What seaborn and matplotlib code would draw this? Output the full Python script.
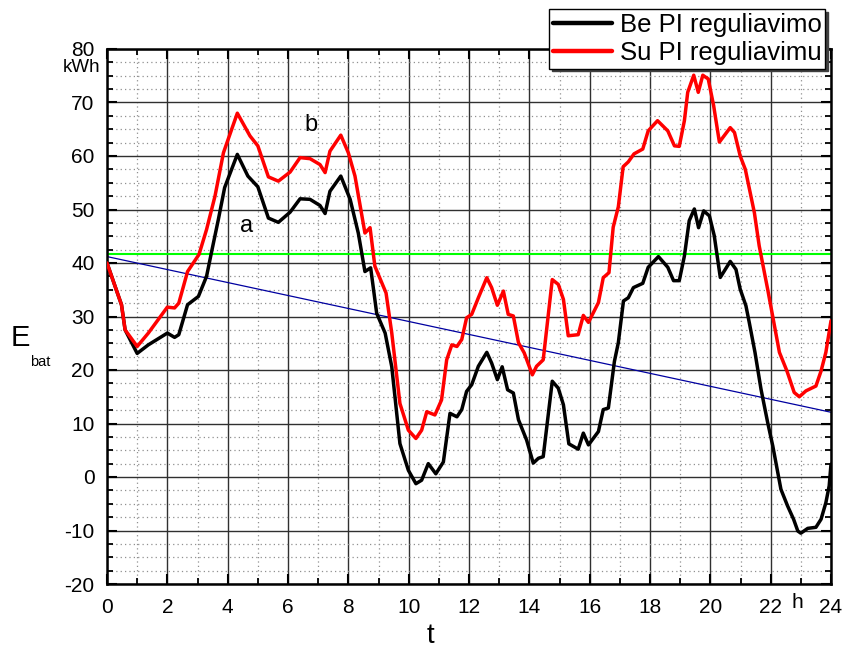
import numpy as np
import pandas as pd
import matplotlib
matplotlib.use("Agg")
import matplotlib.pyplot as plt
from matplotlib.ticker import MultipleLocator
import seaborn as sns

# ---- data ----
t_a = [0, 0.48, 0.6, 1.0, 1.37, 2.0, 2.24, 2.38, 2.67, 3.03, 3.3, 3.46, 3.69, 3.9, 4.32, 4.67, 5.0, 5.35,
       5.68, 6.07, 6.4, 6.73, 7.06, 7.23, 7.39, 7.75, 8.06, 8.33, 8.55, 8.74, 8.94, 9.22, 9.44, 9.71, 9.99,
       10.24, 10.43, 10.65, 10.9, 11.15, 11.37, 11.6, 11.76, 11.92, 12.09, 12.31, 12.59, 12.75, 12.94, 13.1,
       13.28, 13.47, 13.64, 13.91, 14.13, 14.3, 14.46, 14.76, 14.96, 15.13, 15.31, 15.62, 15.79, 15.96, 16.29,
       16.45, 16.62, 16.82, 16.95, 17.12, 17.28, 17.45, 17.76, 17.94, 18.28, 18.59, 18.78, 18.97, 19.14, 19.3,
       19.47, 19.61, 19.78, 19.97, 20.13, 20.33, 20.66, 20.85, 20.99, 21.18, 21.29, 21.48, 21.68, 21.9, 22.07,
       22.34, 22.56, 22.76, 22.9, 23.0, 23.23, 23.5, 23.67, 23.83, 23.94, 24.0]
e_a = [40, 32.2, 27.5, 23.1, 24.7, 26.9, 26.1, 26.6, 32.2, 33.75, 37.5, 41.9, 48.1, 54.1, 60.3, 56.25, 54.25,
       48.4, 47.6, 49.5, 52, 51.9, 50.75, 49.25, 53.4, 56.25, 51.9, 45.6, 38.4, 39.1, 30.6, 26.9, 20.6, 6.25,
       1.25, -1.25, -0.6, 2.5, 0.6, 2.8, 11.9, 11.25, 12.6, 16.0, 17.25, 20.7, 23.3, 21.3, 18.2, 20.6, 16.3,
       15.7, 10.7, 6.9, 2.6, 3.5, 3.8, 17.9, 16.6, 13.5, 6.2, 5.2, 8.2, 6.0, 8.5, 12.6, 12.9, 21.6, 25.1, 32.9,
       33.5, 35.4, 36.2, 39.2, 41.2, 39.2, 36.7, 36.7, 41.3, 47.9, 50.1, 46.6, 49.75, 48.8, 45.1, 37.3, 40.3,
       38.8, 35.1, 32.0, 28.9, 23.3, 16.4, 10.2, 5.8, -2.3, -5.4, -7.9, -10.1, -10.5, -9.6, -9.4, -7.9, -4.8,
       -1.65, 2.4]

t_b = [0, 0.48, 0.6, 1.0, 1.37, 2.0, 2.24, 2.38, 2.67, 3.05, 3.3, 3.58, 3.86, 4.32, 4.74, 5.0, 5.35, 5.68,
       6.07, 6.4, 6.73, 7.06, 7.23, 7.39, 7.75, 8.0, 8.22, 8.55, 8.72, 8.88, 9.25, 9.44, 9.71, 9.99, 10.24,
       10.43, 10.6, 10.87, 11.09, 11.26, 11.43, 11.6, 11.76, 11.92, 12.09, 12.31, 12.59, 12.75, 12.94, 13.14,
       13.3, 13.47, 13.64, 13.83, 14.1, 14.24, 14.46, 14.76, 14.96, 15.13, 15.29, 15.62, 15.79, 15.96, 16.29,
       16.45, 16.64, 16.78, 16.95, 17.11, 17.28, 17.47, 17.76, 17.94, 18.25, 18.59, 18.81, 18.97, 19.14, 19.25,
       19.45, 19.6, 19.75, 19.93, 20.11, 20.3, 20.66, 20.8, 20.99, 21.16, 21.46, 21.62, 21.9, 22.29, 22.54,
       22.78, 22.95, 23.17, 23.5, 23.67, 23.83, 24.0]
e_b = [40, 32.2, 27.5, 24.4, 26.9, 31.75, 31.6, 32.5, 38.4, 41.6, 46.25, 52.5, 60.6, 68, 63.75, 61.9, 56.1,
       55.3, 57.0, 59.7, 59.5, 58.4, 56.9, 60.9, 63.9, 60.6, 56.25, 45.6, 46.6, 39.4, 34.4, 26.9, 13.75, 8.75,
       7.2, 8.75, 12.2, 11.6, 14.4, 21.9, 24.7, 24.4, 25.7, 29.75, 30.4, 33.5, 37.25, 35.4, 32.1, 34.75, 30.4,
       30.1, 25.1, 23.2, 19.1, 20.7, 21.9, 36.9, 36.0, 33.2, 26.4, 26.6, 30.2, 28.9, 32.6, 37.25, 38.2, 46.7,
       50.5, 58.0, 58.9, 60.4, 61.3, 64.7, 66.6, 64.7, 61.9, 61.8, 66.6, 71.9, 75.1, 71.9, 75.1, 74.4, 69.4,
       62.6, 65.3, 64.4, 60, 57.5, 49.4, 43.2, 35.1, 23.3, 19.8, 15.8, 15.0, 16.1, 17.0, 19.8, 23.3, 29.2]

label_a = "Be PI reguliavimo"
label_b = "Su PI reguliavimu"
green_level = 41.6
trend_t = [0, 24]
trend_e = [41.2, 12.1]
x_ticks = list(range(0, 25, 2))
y_ticks = list(range(-20, 81, 10))

# ---- style ----
sns.set_theme(style="white")
plt.rcParams["font.family"] = ["Liberation Sans", "DejaVu Sans"]
plt.rcParams["axes.unicode_minus"] = False
plt.rcParams["text.color"] = "black"
plt.rcParams["xtick.color"] = "black"
plt.rcParams["ytick.color"] = "black"
plt.rcParams["xtick.labelcolor"] = "black"
plt.rcParams["ytick.labelcolor"] = "black"

df = pd.concat([
    pd.DataFrame({"t": t_a, "E": e_a, "series": label_a}),
    pd.DataFrame({"t": t_b, "E": e_b, "series": label_b}),
], ignore_index=True)

fig = plt.figure(figsize=(8.47, 6.51), dpi=100)
ax = fig.add_axes([107 / 847, 1 - 584 / 651, (831 - 107) / 847, (584 - 49) / 651])

# grid
ax.set_xlim(0, 24)
ax.set_ylim(-20, 80)
ax.xaxis.set_major_locator(MultipleLocator(2))
ax.xaxis.set_minor_locator(MultipleLocator(1))
ax.yaxis.set_major_locator(MultipleLocator(10))
ax.yaxis.set_minor_locator(MultipleLocator(2.5))
ax.grid(which="major", color="#303030", linewidth=1.0, linestyle="-")
ax.grid(which="minor", color="#909090", linewidth=0.9, linestyle=(0, (1, 2.5)))
ax.set_axisbelow(True)

# reference lines
ax.axhline(green_level, color="#00ff00", linewidth=1.5, zorder=2)
sns.lineplot(x=trend_t, y=trend_e, ax=ax, color="#0000a0", linewidth=0.9, zorder=2)

sns.lineplot(data=df, x="t", y="E", hue="series", palette={label_a: "black", label_b: "red"},
             sort=False, estimator=None, linewidth=2.5, ax=ax, legend=True, zorder=3)

# ticks
ax.tick_params(axis="both", which="both", direction="in", top=True, right=True,
               bottom=True, left=True, color="black", labelcolor="black")
ax.tick_params(which="major", length=7, width=1.5, labelsize=15)
ax.tick_params(which="minor", length=4.5, width=1.3)
ax.set_xticks(x_ticks)
ax.set_yticks(y_ticks)
ax.tick_params(axis="x", pad=10)
ax.tick_params(axis="y", pad=9)
for s in ax.spines.values():
    s.set_linewidth(1.8)
    s.set_color("black")

ax.set_xlabel("")
ax.set_ylabel("")

# legend
h, l = ax.get_legend_handles_labels()
ax.get_legend().remove()
leg = fig.legend(h[-2:], l[-2:], loc="upper left", bbox_to_anchor=(549 / 847, 1 - 9 / 651),
                 fontsize=18.5, frameon=True, fancybox=False, framealpha=1, edgecolor="black",
                 handlelength=2.3, handletextpad=0.3, borderpad=0.15, labelspacing=0.15,
                 borderaxespad=0, shadow={"color": "0.25", "alpha": 1})
leg.get_frame().set_linewidth(1.0)
for line in leg.get_lines():
    line.set_linewidth(3.2)

# texts
fig.text(82 / 847, 1 - 68 / 651, "kWh", fontsize=13.5, ha="center", va="center")
fig.text(797 / 847, 1 - 603 / 651, "h", fontsize=15, ha="center", va="center")
fig.text(430 / 847, 1 - 636 / 651, "t", fontsize=20, ha="center", va="center")
fig.text(20 / 847, 1 - 338 / 651, "E", fontsize=21, ha="center", va="center")
fig.text(40 / 847, 1 - 362 / 651, "bat", fontsize=10.5, ha="center", va="center")
ax.text(4.64, 46.9, "a", fontsize=17, ha="center", va="center")
ax.text(6.76, 65.8, "b", fontsize=17, ha="center", va="center")

fig.savefig("out.png", dpi=100)
